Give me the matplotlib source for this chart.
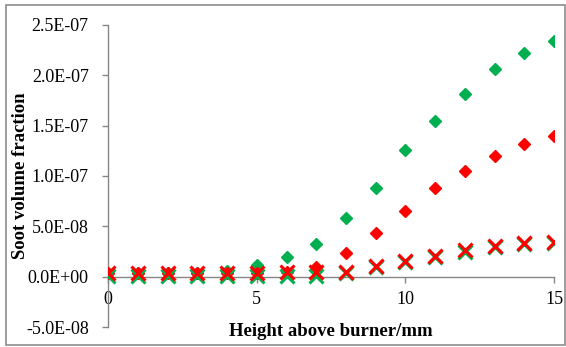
import matplotlib
matplotlib.use("Agg")
import matplotlib.pyplot as plt
from matplotlib.patches import Rectangle

# Height above burner (mm)
hab = list(range(16))

# Soot volume fraction for the four cases
green_diamond = [0.4e-8, 0.4e-8, 0.4e-8, 0.4e-8, 0.6e-8, 1.2e-8, 1.95e-8, 3.2e-8,
                 5.8e-8, 8.85e-8, 12.55e-8, 15.5e-8, 18.15e-8, 20.6e-8, 22.2e-8, 23.45e-8]
red_diamond = [0.4e-8, 0.4e-8, 0.4e-8, 0.4e-8, 0.4e-8, 0.4e-8, 0.45e-8, 1.0e-8,
               2.4e-8, 4.3e-8, 6.55e-8, 8.8e-8, 10.5e-8, 11.95e-8, 13.15e-8, 14.0e-8]
green_x = [0.05e-8, 0.05e-8, 0.05e-8, 0.05e-8, 0.05e-8, 0.05e-8, 0.05e-8, 0.05e-8,
           0.4e-8, 0.95e-8, 1.5e-8, 2.0e-8, 2.5e-8, 2.9e-8, 3.2e-8, 3.35e-8]
red_x = [0.4e-8, 0.4e-8, 0.4e-8, 0.4e-8, 0.4e-8, 0.4e-8, 0.45e-8, 0.45e-8,
         0.5e-8, 1.05e-8, 1.6e-8, 2.1e-8, 2.6e-8, 3.0e-8, 3.3e-8, 3.45e-8]

y_ticks = [-5e-8, 0, 5e-8, 1e-7, 1.5e-7, 2e-7, 2.5e-7]
y_tick_labels = ["-5.0E-08", "0.0E+00", "5.0E-08", "1.0E-07", "1.5E-07", "2.0E-07", "2.5E-07"]
x_ticks = [0, 5, 10, 15]

GREEN = "#00B050"
RED = "#FF0000"
AXIS_GRAY = "#868686"

plt.rcParams["font.family"] = ["Liberation Serif", "DejaVu Serif"]

fig = plt.figure(figsize=(5.66, 3.47), dpi=100)
ax = fig.add_axes([0.191, 0.0576, 0.788, 0.8704])

ax.plot(hab, green_diamond, linestyle="none", marker="D", ms=6.6, color=GREEN, mec=GREEN, zorder=3)
ax.plot(hab, red_diamond, linestyle="none", marker="D", ms=6.6, color=RED, mec=RED, zorder=4)
ax.plot(hab, green_x, linestyle="none", marker="x", ms=9.5, mew=2.2, color=GREEN, zorder=5)
ax.plot(hab, red_x, linestyle="none", marker="x", ms=9.5, mew=2.2, color=RED, zorder=6)

ax.set_xlim(0, 15)
ax.set_ylim(-5e-8, 2.5e-7)
ax.set_yticks(y_ticks)
ax.set_yticklabels(y_tick_labels)
ax.set_xticks(x_ticks)
ax.set_xticklabels([str(t) for t in x_ticks])

for side in ("top", "right"):
    ax.spines[side].set_visible(False)
ax.spines["bottom"].set_position(("data", 0))
for side in ("left", "bottom"):
    ax.spines[side].set_color(AXIS_GRAY)
    ax.spines[side].set_linewidth(1.0)

ax.tick_params(axis="y", direction="out", length=4, width=1, color=AXIS_GRAY,
               labelsize=13, pad=10)
ax.tick_params(axis="x", direction="out", length=4, width=1, color=AXIS_GRAY,
               labelsize=13, pad=6)

# Axis titles
fig.text(21 / 566, 1 - 176 / 347, "Soot volume fraction", fontsize=13.5,
         fontweight="bold", rotation=90, ha="center", va="center")
fig.text(331 / 566, 1 - 332 / 347, "Height above burner/mm", fontsize=13.5,
         fontweight="bold", ha="center", va="center")

# Chart-area border
fig.add_artist(Rectangle((6 / 566, 2 / 347), 559 / 566, 340 / 347,
                         transform=fig.transFigure, fill=False,
                         edgecolor="#8C8C8C", linewidth=1.2))

fig.savefig("out.png", dpi=100)
